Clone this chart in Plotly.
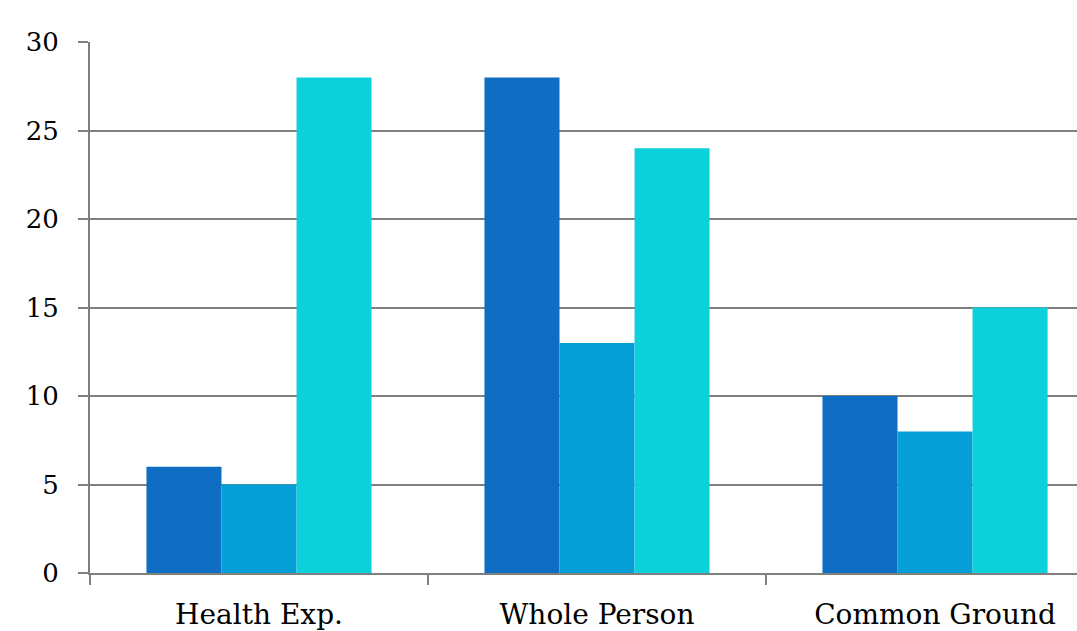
import plotly.graph_objects as go

categories = ["Health Exp.", "Whole Person", "Common Ground"]
series_a = [6, 28, 10]
series_b = [5, 13, 8]
series_c = [28, 24, 15]
y_ticks = [0, 5, 10, 15, 20, 25, 30]

colors = ["#0F6DC4", "#049FD7", "#0DD1DA"]
axis_gray = "#7F7F7F"
font_family = "DejaVu Serif"

fig = go.Figure()
for vals, col in zip([series_a, series_b, series_c], colors):
    fig.add_trace(go.Bar(x=categories, y=vals, marker=dict(color=col, line=dict(width=0))))

fig.update_layout(
    width=1077,
    height=631,
    margin=dict(l=90, r=0, t=42, b=56),
    paper_bgcolor="white",
    plot_bgcolor="white",
    barmode="group",
    bargap=0.334,
    bargroupgap=0,
    showlegend=False,
    font=dict(family=font_family, color="black"),
)

fig.update_xaxes(
    type="category",
    range=[-0.5, 2.42],
    showgrid=False,
    showline=True,
    linecolor=axis_gray,
    linewidth=2,
    ticks="outside",
    tickson="boundaries",
    ticklen=10,
    tickwidth=2,
    tickcolor=axis_gray,
    tickfont=dict(size=28),
    ticklabelstandoff=15,
)

fig.update_yaxes(
    range=[0, 30],
    tickvals=y_ticks,
    showgrid=True,
    gridcolor=axis_gray,
    gridwidth=2,
    showline=True,
    linecolor=axis_gray,
    linewidth=2,
    zeroline=False,
    ticks="outside",
    ticklen=10,
    tickwidth=2,
    tickcolor=axis_gray,
    tickfont=dict(size=26),
    ticklabelstandoff=14,
)

fig.write_html("out.html")
